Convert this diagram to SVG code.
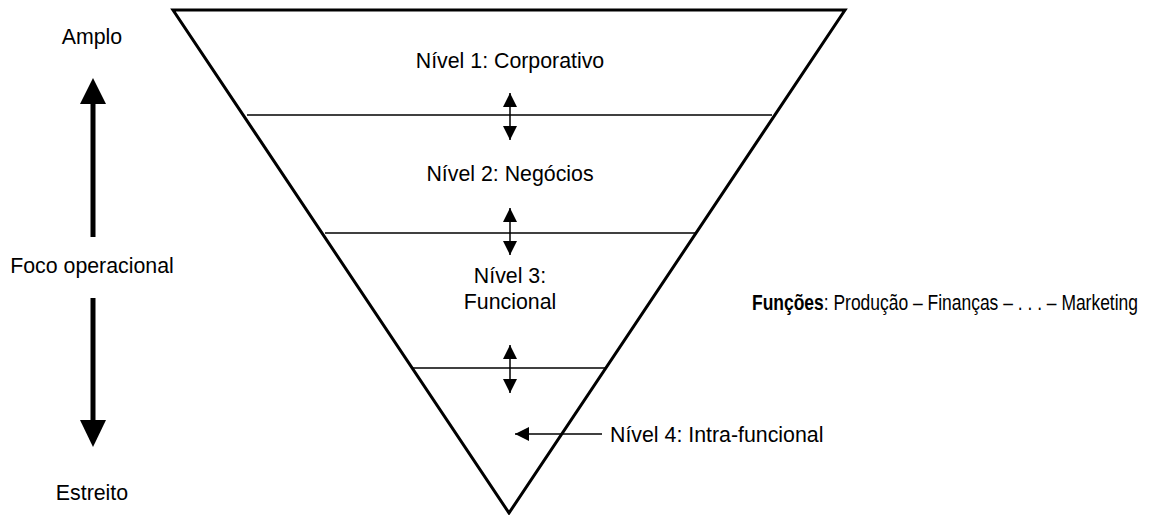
<svg xmlns="http://www.w3.org/2000/svg" width="1163" height="515" viewBox="0 0 1163 515">
<style>
text{font-family:"Liberation Sans",Arial,sans-serif;font-size:21.33px;fill:#000}
.c{text-anchor:middle}
.thin{stroke:#000;stroke-width:1.5;fill:none}
.dbl{stroke:#000;stroke-width:1.5;fill:none}
</style>
<defs>
<marker id="sh2" viewBox="0 0 10 10" refX="10" refY="5" markerWidth="14" markerHeight="14" markerUnits="userSpaceOnUse" orient="auto-start-reverse"><path d="M0,0 L10,5 L0,10 Z" fill="#000"/></marker>
</defs>
<g id="funnel">
<polygon points="173,10 845,10 509,513" fill="none" stroke="#000" stroke-width="3" stroke-linejoin="miter"/>
<line class="thin" x1="247" y1="115" x2="772" y2="115"/>
<line class="thin" x1="325" y1="233" x2="695" y2="233"/>
<line class="thin" x1="413" y1="368" x2="606" y2="368"/>
</g>
<g id="level1"><text class="c" x="510" y="68">Nível 1: Corporativo</text></g>
<g id="level2"><text class="c" x="510" y="181">Nível 2: Negócios</text></g>
<g id="level3"><text class="c" x="510" y="283">Nível 3:</text><text class="c" x="510" y="309">Funcional</text></g>
<g id="level4"><text x="610" y="442">Nível 4: Intra-funcional</text></g>
<g id="functions"><text x="752" y="310" textLength="386" lengthAdjust="spacingAndGlyphs"><tspan font-weight="bold">Funções</tspan>: Produção – Finanças – . . . – Marketing</text></g>
<g id="focus">
<text class="c" x="92" y="44">Amplo</text>
<text class="c" x="92" y="273">Foco operacional</text>
<text class="c" x="92" y="500">Estreito</text>
</g>
<g id="connectors">
<line x1="93" y1="237" x2="93" y2="102" stroke="#000" stroke-width="5"/>
<polygon points="80,104 106,104 93,78" fill="#000"/>
<line x1="93" y1="298" x2="93" y2="422" stroke="#000" stroke-width="5"/>
<polygon points="80,420 106,420 93,447" fill="#000"/>
<line class="dbl" x1="510" y1="93" x2="510" y2="140" marker-start="url(#sh2)" marker-end="url(#sh2)"/>
<line class="dbl" x1="510" y1="208" x2="510" y2="255" marker-start="url(#sh2)" marker-end="url(#sh2)"/>
<line class="dbl" x1="510" y1="345" x2="510" y2="393" marker-start="url(#sh2)" marker-end="url(#sh2)"/>
<line class="dbl" x1="602" y1="434" x2="515" y2="434" marker-end="url(#sh2)"/>
</g>
</svg>
